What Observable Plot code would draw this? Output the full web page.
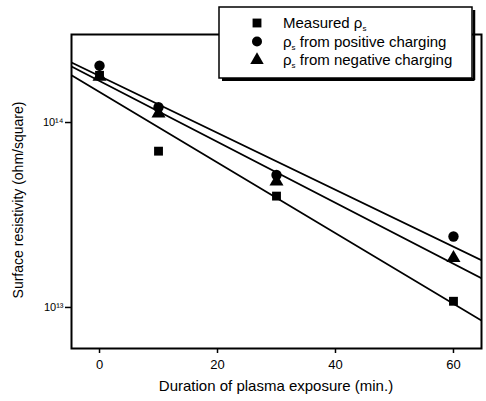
<!DOCTYPE html>
<html>
<head>
<meta charset="utf-8">
<script src="https://cdn.jsdelivr.net/npm/d3@7"></script>
<script src="https://cdn.jsdelivr.net/npm/@observablehq/plot@0.6"></script>
<style>
  html, body { margin: 0; padding: 0; background: #fff; }
  #chart svg { display: block; }
</style>
</head>
<body>
<div id="chart"></div>
<script>
// Data
const durations = [0, 10, 30, 60];
const measured = [1.80e14, 7.0e13, 4.0e13, 1.08e13];
const positive = [2.03e14, 1.21e14, 5.2e13, 2.42e13];
const negative = [1.77e14, 1.12e14, 4.8e13, 1.85e13];

// Fitted lines, read at the frame edges
const fitX = [-4.75, 64.75];
const fitMeasured = [1.80e14, 8.5e12];
const fitPositive = [2.11e14, 1.80e13];
const fitNegative = [2.01e14, 1.44e13];

const xTicks = [0, 20, 40, 60];
const yTicks = [1e13, 1e14];
const yTickLabels = ["10\u00B9\u00B3", "10\u00B9\u2074"];

const seriesNames = ["Measured", "Positive", "Negative"];
const seriesSymbols = ["square", "circle", "triangle"];

const points = [];
durations.forEach((d, i) => {
  points.push({x: d, y: measured[i], s: seriesNames[0]});
  points.push({x: d, y: positive[i], s: seriesNames[1]});
  points.push({x: d, y: negative[i], s: seriesNames[2]});
});
const fits = [];
[fitMeasured, fitPositive, fitNegative].forEach((f, k) => {
  fitX.forEach((x, i) => fits.push({x, y: f[i], s: seriesNames[k]}));
});

const font = "'Liberation Sans', Arial, Helvetica, sans-serif";

const chart = Plot.plot({
  width: 486,
  height: 401,
  marginLeft: 71,
  marginRight: 5,
  marginTop: 34,
  marginBottom: 53,
  style: {fontFamily: font, fontSize: "12px", color: "#000", background: "#fff"},
  x: {domain: [-4.75, 64.75]},
  y: {type: "log", domain: [Math.pow(10, 12.778), Math.pow(10, 14.476)]},
  symbol: {domain: seriesNames, range: seriesSymbols},
  marks: [
    Plot.line(fits, {x: "x", y: "y", z: "s", stroke: "#000", strokeWidth: 1.8, clip: true}),
    Plot.dot(points.filter(p => p.s === "Measured"), {x: "x", y: "y", symbol: "s", fill: "#000", r: 5}),
    Plot.dot(points.filter(p => p.s === "Negative"), {x: "x", y: "y", symbol: "s", fill: "#000", r: 5.2}),
    Plot.dot(points.filter(p => p.s === "Positive"), {x: "x", y: "y", symbol: "s", fill: "#000", r: 5.2}),
    Plot.frame({stroke: "#000", strokeWidth: 2}),
    Plot.axisX({ticks: xTicks, tickSize: 5, tickPadding: 6, strokeWidth: 1.5, label: null, fontSize: 13}),
    Plot.axisY({ticks: yTicks, tickFormat: (d) => yTickLabels[yTicks.indexOf(d)], tickSize: 6, tickPadding: 2, strokeWidth: 1.5, label: null, fontSize: 11})
  ]
});

document.getElementById("chart").appendChild(chart);

const svg = d3.select(chart);

// Axis titles
svg.append("text")
  .attr("x", 276).attr("y", 391)
  .attr("text-anchor", "middle")
  .attr("font-family", font).attr("font-size", 15)
  .text("Duration of plasma exposure (min.)");

svg.append("text")
  .attr("transform", "translate(23,200) rotate(-90)")
  .attr("text-anchor", "middle")
  .attr("font-family", font).attr("font-size", 14)
  .text("Surface resistivity (ohm/square)");

// Legend box with shadow
const lg = svg.append("g").attr("text-anchor", "start");
lg.append("line").attr("x1", 222).attr("x2", 474.5).attr("y1", 79.5).attr("y2", 79.5).attr("stroke", "#000").attr("stroke-width", 3);
lg.append("line").attr("x1", 474).attr("x2", 474).attr("y1", 10).attr("y2", 80).attr("stroke", "#000").attr("stroke-width", 2.5);
lg.append("rect").attr("x", 219).attr("y", 7).attr("width", 253).attr("height", 71)
  .attr("fill", "#fff").attr("stroke", "#000").attr("stroke-width", 1.5);

const legendItems = [
  {sym: seriesSymbols[0], pre: "Measured \u03C1", post: ""},
  {sym: seriesSymbols[1], pre: "\u03C1", post: " from positive charging"},
  {sym: seriesSymbols[2], pre: "\u03C1", post: " from negative charging"}
];
const symMap = {square: d3.symbolSquare, circle: d3.symbolCircle, triangle: d3.symbolTriangle};
legendItems.forEach((it, i) => {
  const y = 23 + i * 18.5;
  lg.append("path")
    .attr("transform", `translate(257,${y})`)
    .attr("d", d3.symbol(symMap[it.sym], Math.PI * 25)())
    .attr("fill", "#000");
  const t = lg.append("text")
    .attr("x", 283).attr("y", y + 5)
    .attr("text-anchor", "start")
    .attr("font-family", font).attr("font-size", 15);
  t.append("tspan").text(it.pre);
  t.append("tspan").attr("font-size", 8).attr("dy", 3).text("s");
  if (it.post) t.append("tspan").attr("dy", -3).text(it.post);
});
</script>
</body>
</html>
